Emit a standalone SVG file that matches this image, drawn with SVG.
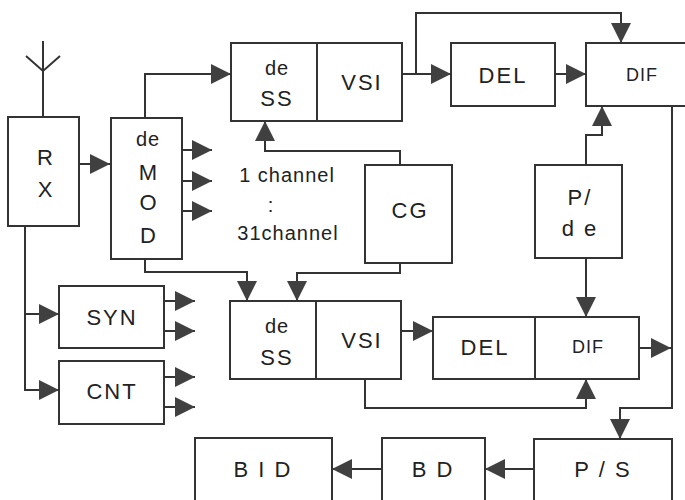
<svg xmlns="http://www.w3.org/2000/svg" width="685" height="500" viewBox="0 0 685 500">
<style>
.box{fill:#fff;stroke:#333;stroke-width:2}
.ln{fill:none;stroke:#333;stroke-width:2}
.c{fill:none;stroke:#333;stroke-width:2;marker-end:url(#ah)}
text{font-family:"Liberation Sans","Noto Sans CJK JP",sans-serif;fill:#222;text-anchor:middle;dominant-baseline:central}
.b{font-size:22px;letter-spacing:2px}
.s{font-size:18px;letter-spacing:1px}
.d{font-size:20px;letter-spacing:1px}
</style>
<defs>
<marker id="ah" markerUnits="userSpaceOnUse" markerWidth="20" markerHeight="20" viewBox="0 0 20 20" refX="20" refY="10" orient="auto">
<path d="M0,0 L20,10 L0,20 Z" fill="#404040"/>
</marker>
</defs>
<g id="connectors">
<path class="ln" d="M43,117 V41 M26,56 L43,71 L60,56"/>
<path class="c" d="M79,164 H110"/>
<path class="c" d="M182,150 H212"/>
<path class="c" d="M182,181 H212"/>
<path class="c" d="M182,211 H212"/>
<path class="c" d="M145,118 V74 H231"/>
<path class="c" d="M400,165 V151 H265 V121"/>
<path class="c" d="M402,74 H451"/>
<path class="c" d="M416,74 V13 H621 V43"/>
<path class="c" d="M555,74 H586"/>
<path class="c" d="M586,165 V135 H602 V106"/>
<path class="c" d="M672,106 V408 H620 V439"/>
<path class="c" d="M586,258 V317"/>
<path class="c" d="M639,348 H671"/>
<path class="c" d="M401,331 H433"/>
<path class="c" d="M365,379 V408 H586 V379"/>
<path class="c" d="M145,259 V272 H247 V301"/>
<path class="c" d="M400,263 V273 H297 V301"/>
<path class="c" d="M25,226 V390 H59"/>
<path class="c" d="M25,314 H59"/>
<path class="c" d="M164,301 H195"/>
<path class="c" d="M164,331 H195"/>
<path class="c" d="M164,377 H195"/>
<path class="c" d="M164,407 H195"/>
<path class="c" d="M534,469 H485"/>
<path class="c" d="M382,469 H332"/>
</g>
<g id="RX"><rect class="box" x="8" y="117" width="71" height="109"/><text class="b" x="46" y="157">R</text><text class="b" x="46" y="189">X</text></g>
<g id="deMOD"><rect class="box" x="111" y="118" width="71" height="141"/><text class="d" x="148" y="139">de</text><text class="b" x="149" y="172">M</text><text class="b" x="149" y="202">O</text><text class="b" x="149" y="235">D</text></g>
<g id="deSS1"><rect class="box" x="231" y="43" width="86" height="78"/><text class="d" x="277" y="68">de</text><text class="b" x="277" y="98">SS</text></g>
<g id="VSI1"><rect class="box" x="317" y="43" width="85" height="78"/><text class="b" x="362" y="82">VSI</text></g>
<g id="DEL1"><rect class="box" x="451" y="43" width="104" height="63"/><text class="b" x="503" y="75">DEL</text></g>
<g id="DIF1"><rect class="box" x="586" y="43" width="110" height="63"/><text class="s" x="642" y="75">DIF</text></g>
<g id="channels"><text class="d" x="287" y="175">1 channel</text><text class="d" x="271" y="205">:</text><text class="d" x="288" y="233">31channel</text></g>
<g id="CG"><rect class="box" x="365" y="165" width="87" height="98"/><text class="b" x="410" y="210">CG</text></g>
<g id="Pde"><rect class="box" x="535" y="165" width="87" height="93"/><text class="b" x="580" y="197">P/</text><text class="b" x="580" y="228">d e</text></g>
<g id="deSS2"><rect class="box" x="230" y="301" width="86" height="78"/><text class="d" x="277" y="326">de</text><text class="b" x="277" y="357">SS</text></g>
<g id="VSI2"><rect class="box" x="316" y="301" width="85" height="78"/><text class="b" x="362" y="340">VSI</text></g>
<g id="DEL2"><rect class="box" x="433" y="317" width="102" height="62"/><text class="b" x="485" y="347">DEL</text></g>
<g id="DIF2"><rect class="box" x="535" y="317" width="104" height="62"/><text class="s" x="588" y="347">DIF</text></g>
<g id="SYN"><rect class="box" x="59" y="286" width="105" height="62"/><text class="b" x="112" y="317">SYN</text></g>
<g id="CNT"><rect class="box" x="59" y="361" width="105" height="63"/><text class="b" x="112" y="391">CNT</text></g>
<g id="BID"><rect class="box" x="195" y="438" width="137" height="80"/><text class="b" x="263" y="469">B I D</text></g>
<g id="BD"><rect class="box" x="382" y="438" width="103" height="80"/><text class="b" x="433" y="469">B D</text></g>
<g id="PS"><rect class="box" x="534" y="439" width="138" height="80"/><text class="b" x="603" y="469">P / S</text></g>
</svg>
